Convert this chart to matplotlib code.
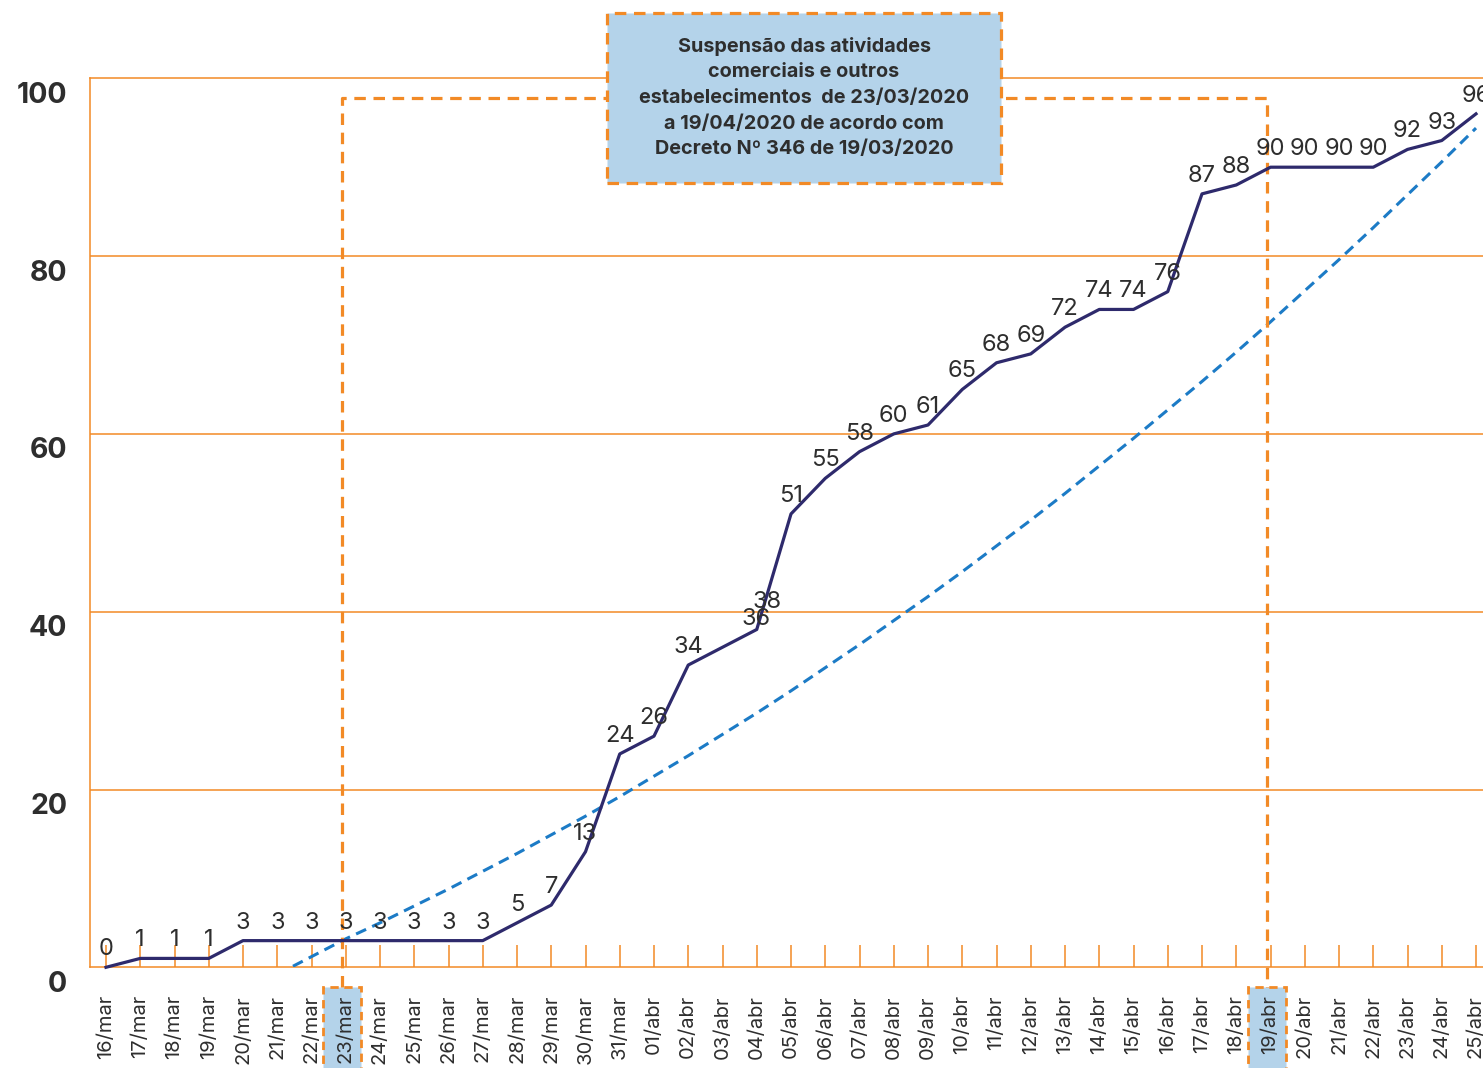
import matplotlib
matplotlib.use("Agg")
import matplotlib.pyplot as plt
import matplotlib.transforms as mtransforms
from matplotlib.patches import Rectangle
import numpy as np

plt.rcParams['font.family'] = ['Inter', 'DejaVu Sans']

days = ["16/mar", "17/mar", "18/mar", "19/mar", "20/mar", "21/mar", "22/mar",
        "23/mar", "24/mar", "25/mar", "26/mar", "27/mar", "28/mar", "29/mar",
        "30/mar", "31/mar", "01/abr", "02/abr", "03/abr", "04/abr", "05/abr",
        "06/abr", "07/abr", "08/abr", "09/abr", "10/abr", "11/abr", "12/abr",
        "13/abr", "14/abr", "15/abr", "16/abr", "17/abr", "18/abr", "19/abr",
        "20/abr", "21/abr", "22/abr", "23/abr", "24/abr", "25/abr"]
cases = [0, 1, 1, 1, 3, 3, 3, 3, 3, 3, 3, 3, 5, 7, 13, 24, 26, 34, 36, 38, 51,
         55, 58, 60, 61, 65, 68, 69, 72, 74, 74, 76, 87, 88, 90, 90, 90, 90,
         92, 93, 96]
# trend line, from 21/mar on
trend_start = 5
trend = [-0.8, 1.2, 3.2, 5.0, 6.9, 8.8, 10.8, 12.8, 14.9, 17.0, 19.2, 21.5,
         23.8, 26.2, 28.6, 31.1, 33.7, 36.3, 39.0, 41.7, 44.5, 47.4, 50.3,
         53.3, 56.4, 59.5, 62.7, 65.9, 69.2, 72.6, 76.1, 79.6, 83.2, 86.9,
         90.6, 94.4]
decree_start = "23/mar"
decree_end = "19/abr"
note = ("Suspensão das atividades\ncomerciais e outros\n"
        "estabelecimentos  de 23/03/2020\na 19/04/2020 de acordo com\n"
        "Decreto Nº 346 de 19/03/2020")

orange = '#f28a26'
navy = '#2e2a6c'
blue = '#1c7bc6'
txt = '#2e2e2e'
boxblue = '#b4d3ea'

W, H = 1483, 1068
fig = plt.figure(figsize=(W / 100, H / 100), dpi=100)
ax = fig.add_axes([90 / W, 1 - 967.3 / H, 1 - 90 / W, (967.3 - 78.3) / H])

x = np.arange(len(days))
ax.set_xlim(-16 / 34.25, (W - 106) / 34.25)
ax.set_ylim(0, 100)

for v in [20, 40, 60, 80]:
    ax.axhline(v, color=orange, lw=1.1, zorder=1)
for s in ['top', 'left', 'bottom']:
    ax.spines[s].set_color(orange)
    ax.spines[s].set_linewidth(1.1)
ax.spines['right'].set_visible(False)

ax.set_xticks(x)
ax.set_xticklabels(days, rotation=90, fontsize=14.5, color=txt, va='top')
ax.tick_params(axis='x', direction='in', length=16, width=1.1, color=orange, pad=20)
ax.set_yticks([0, 20, 40, 60, 80, 100])
ax.set_yticklabels(["0", "20", "40", "60", "80", "100"], fontsize=20.5,
                   fontweight='bold', color=txt)
ax.tick_params(axis='y', length=0, pad=16.5)
shift = mtransforms.ScaledTranslation(0, -14 / 100, fig.dpi_scale_trans)
for lab in ax.get_yticklabels():
    lab.set_transform(lab.get_transform() + shift)

# trend
tx = np.arange(trend_start, trend_start + len(trend))
ax.plot(tx, trend, color=blue, lw=2.2, dashes=(3.6, 2.2), zorder=3)

# cases
ax.plot(x, cases, color=navy, lw=2.3, zorder=4, clip_on=False)

# data labels
special = {18: (34, 10), 19: (10, 9)}  # pixel tweaks for crowded labels
for i, v in enumerate(cases):
    dx, dy = special.get(i, (0, 0))
    ax.annotate(str(v), (i, v), xytext=(dx / 1.389, (18 + dy) / 1.389),
                textcoords='offset points', ha='center', va='center',
                fontsize=17, color=txt, zorder=5, annotation_clip=False)

# decree period
i0 = days.index(decree_start) - 0.1
i1 = days.index(decree_end) - 0.1
ybot = -(987 - 967.3) / 8.89
ax.plot([i0, i0, i1, i1], [ybot, 97.8, 97.8, ybot], color=orange, lw=2.3,
        dashes=(3.6, 2.4), clip_on=False, zorder=3)

bt = mtransforms.blended_transform_factory(ax.transData, fig.transFigure)
for c in [i0, i1]:
    ax.add_patch(Rectangle((c - 0.55, -0.01), 1.1, (1068 - 987) / H + 0.01,
                           transform=bt, facecolor=boxblue, edgecolor=orange,
                           lw=2.0, linestyle=(0, (3, 2)), clip_on=False, zorder=1))

fig.add_artist(Rectangle((607 / W, 1 - 183 / H), 394 / W, 170 / H,
                         transform=fig.transFigure, facecolor=boxblue,
                         edgecolor=orange, lw=2.3, linestyle=(0, (3.6, 2.4)),
                         zorder=5))
fig.text(804 / W, 1 - 97.5 / H, note, ha='center', va='center', fontsize=14.3,
         fontweight='bold', color=txt, linespacing=1.55, zorder=6)

fig.savefig("out.png", dpi=100)
